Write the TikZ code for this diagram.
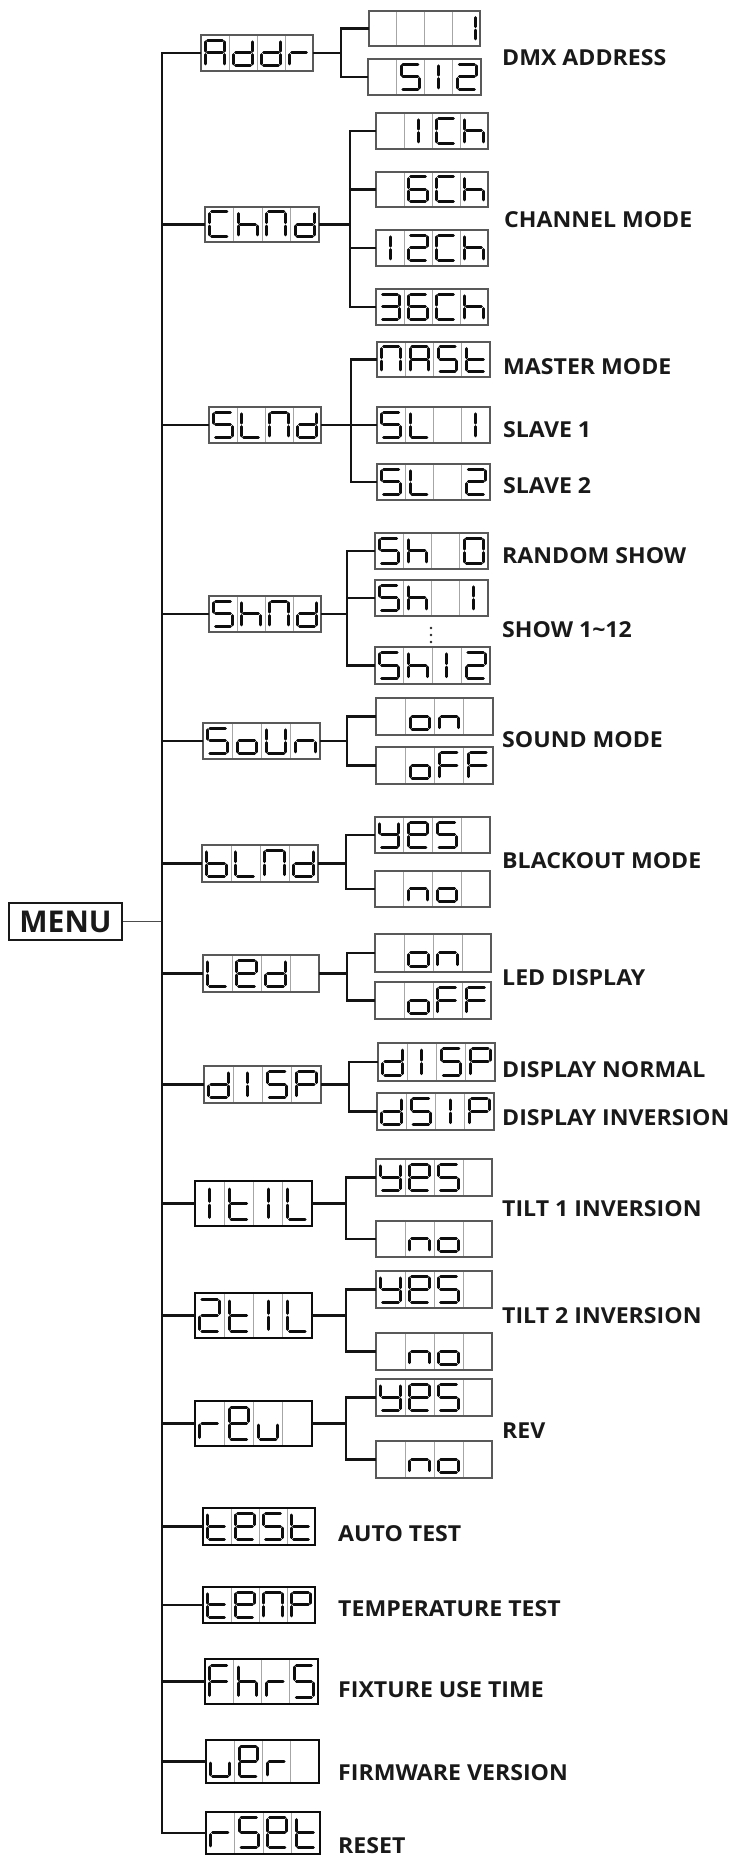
\documentclass[tikz,border=0pt]{standalone}
\usepackage{fontspec}
\newfontfamily\labfont{Open Sans}[FakeStretch=1.05]
\newfontfamily\menufont{Open Sans}
\newcommand\defch[2]{\expandafter\def\csname ch#1\endcsname{#2}}
\defch{A}{a,b,c,e,f,g}
\defch{d}{b,c,d,e,g}
\defch{r}{e,g}
\defch{C}{a,d,e,f}
\defch{h}{c,e,f,g}
\defch{N}{a,b,c,e,f}
\defch{1}{b,c}
\defch{I}{i,j}
\defch{6}{a,c,d,e,f,g}
\defch{3}{a,b,c,d,g}
\defch{2}{a,b,d,e,g}
\defch{5}{a,c,d,f,g}
\defch{L}{d,e,f}
\defch{t}{d,e,f,g}
\defch{o}{c,d,e,g}
\defch{n}{c,e,g}
\defch{F}{a,e,f,g}
\defch{y}{b,c,d,f,g}
\defch{E}{a,b,d,e,f,g}
\defch{P}{a,b,e,f,g}
\defch{u}{c,d,e}
\defch{U}{b,c,d,e,f}
\defch{0}{a,b,c,d,e,f}
\defch{b}{c,d,e,f,g}
\defch{X}{}
\def\gp{1.8}
\def\sga{\draw[seg] (\xL+\gp,\yT) -- (\xR-\gp,\yT);}
\def\sgb{\draw[seg] (\xR,\yT+\gp) -- (\xR,\yM-\gp);}
\def\sgc{\draw[seg] (\xR,\yM+\gp) -- (\xR,\yB-\gp);}
\def\sgd{\draw[seg] (\xL+\gp,\yB) -- (\xR-\gp,\yB);}
\def\sge{\draw[seg] (\xL,\yM+\gp) -- (\xL,\yB-\gp);}
\def\sgf{\draw[seg] (\xL,\yT+\gp) -- (\xL,\yM-\gp);}
\def\sgg{\draw[seg] (\xL+\gp,\yM) -- (\xR-\gp,\yM);}
\def\sgi{\draw[seg] (\xC,\yT+\gp) -- (\xC,\yM-\gp);}
\def\sgj{\draw[seg] (\xC,\yM+\gp) -- (\xC,\yB-\gp);}
\newcommand\lcdglyph[5]{%
  \pgfmathsetmacro\xL{#1+0.17*#3}%
  \pgfmathsetmacro\xR{#1+#3-0.17*#3}%
  \pgfmathsetmacro\xC{#1+0.5*#3}%
  \pgfmathsetmacro\yT{#2+0.14*#4}%
  \pgfmathsetmacro\yB{#2+#4-0.15*#4}%
  \pgfmathsetmacro\yM{(\yT+\yB)/2}%
  \edef\seglist{\csname ch#5\endcsname}%
  \ifx\seglist\empty\else
  \foreach \s in \seglist {\csname sg\s\endcsname}%
  \fi}
\newcommand\lcdbox[7][]{%
  \pgfmathsetmacro\bw{#5-#3}%
  \pgfmathsetmacro\bh{#6-#4}%
  \pgfmathsetmacro\cw{\bw/4}%
  \node[dbox,#1,minimum width=\bw pt,minimum height=\bh pt,anchor=north west] (#2) at (#3,#4) {};
  \foreach \k in {1,2,3}{\draw[divider] (#3+\k*\cw,#4+0.8) -- (#3+\k*\cw,#6-0.8);}
  \foreach \c [count=\k from 0] in {#7}{\lcdglyph{#3+\k*\cw}{#4}{\cw}{\bh}{\c}}%
}
\newcommand\subtree[3]{%
  \coordinate (J#1) at (#2,0);
  \draw[conn] (#1.east) -- (#1.east -| J#1);
  \foreach \s in {#3}{\draw[conn] (\s.west) -| (#1.east -| J#1);}%
}
\tikzset{
  seg/.style={line width=3pt, line cap=round, draw=black!95},
  dbox/.style={draw=black!65, line width=1.3pt, inner sep=0pt, outer sep=0pt, fill=white},
  heavy/.style={draw=black!95, line width=1.9pt},
  divider/.style={draw=black!35, line width=0.9pt},
  trunkline/.style={line width=2.8pt, draw=black!92, line join=miter},
  conn/.style={line width=2.2pt, draw=black!92, line join=miter},
  menuline/.style={line width=1.3pt, draw=black!70},
  menubox/.style={draw=black!90, line width=1.6pt, inner sep=0pt, minimum width=113pt, minimum height=37pt,
    font=\menufont\bfseries\fontsize{30}{30}\selectfont, text=black!90},
  lab/.style={font=\labfont\bfseries\fontsize{22}{22}\selectfont, anchor=base west, inner sep=0pt, text=black!90},
}
\begin{document}
\begin{tikzpicture}[x=1pt,y=-1pt]
\useasboundingbox (0,0) rectangle (735,1856);
% main boxes
\lcdbox{Addr}{201}{35}{313}{71}{A,d,d,r}
\lcdbox{ChNd}{205}{207}{319}{242}{C,h,N,d}
\lcdbox{SLNd}{209}{407}{321}{443}{5,L,N,d}
\lcdbox{ShNd}{209}{596}{321}{632}{5,h,N,d}
\lcdbox{SoUn}{203}{723}{320}{759}{5,o,U,n}
\lcdbox{bLNd}{202}{845}{318}{882}{b,L,N,d}
\lcdbox{LEd}{203}{955}{319}{992}{L,E,d,X}
\lcdbox{dISP}{204}{1066}{321}{1103}{d,I,5,P}
\lcdbox[heavy]{tILa}{195}{1181}{312}{1226}{I,t,I,L}
\lcdbox[heavy]{tILb}{195}{1293}{312}{1338}{2,t,I,L}
\lcdbox[heavy]{rEu}{195}{1401}{312}{1446}{r,E,u,X}
\lcdbox[heavy]{tESt}{203}{1508}{315}{1545}{t,E,5,t}
\lcdbox[heavy]{tEnP}{203}{1587}{315}{1623}{t,E,N,P}
\lcdbox[heavy]{FhrS}{205}{1659}{318}{1704}{F,h,r,5}
\lcdbox[heavy]{uEr}{206}{1740}{319}{1783}{u,E,r,X}
\lcdbox[heavy]{rSEt}{206}{1812}{320}{1854}{r,5,E,t}
% sub boxes
\lcdbox{a1}{369}{11}{480}{46}{X,X,X,1}
\lcdbox{a2}{368}{59}{481}{95}{X,5,I,2}
\lcdbox{c1}{376}{113}{488}{149}{X,I,C,h}
\lcdbox{c2}{376}{172}{488}{207}{X,6,C,h}
\lcdbox{c3}{376}{230}{488}{266}{I,2,C,h}
\lcdbox{c4}{376}{289}{488}{325}{3,6,C,h}
\lcdbox{s1}{377}{342}{490}{377}{N,A,5,t}
\lcdbox{s2}{377}{407}{490}{443}{5,L,X,I}
\lcdbox{s3}{377}{464}{490}{500}{5,L,X,2}
\lcdbox{h1}{375}{533}{488}{569}{5,h,X,0}
\lcdbox{h2}{375}{580}{488}{616}{5,h,X,I}
\lcdbox{h3}{375}{647}{490}{684}{5,h,I,2}
\lcdbox{o1}{376}{698}{493}{735}{X,o,n,X}
\lcdbox{o2}{376}{747}{493}{784}{X,o,F,F}
\lcdbox{b1}{375}{817}{490}{853}{y,E,5,X}
\lcdbox{b2}{375}{871}{490}{907}{X,n,o,X}
\lcdbox{l1}{375}{934}{491}{972}{X,o,n,X}
\lcdbox{l2}{375}{982}{491}{1019}{X,o,F,F}
\lcdbox{d1}{378}{1043}{495}{1081}{d,I,5,P}
\lcdbox{d2}{377}{1093}{494}{1130}{d,5,I,P}
\lcdbox{ta1}{376}{1159}{492}{1196}{y,E,5,X}
\lcdbox{ta2}{376}{1221}{492}{1257}{X,n,o,X}
\lcdbox{tb1}{376}{1271}{492}{1308}{y,E,5,X}
\lcdbox{tb2}{376}{1333}{492}{1370}{X,n,o,X}
\lcdbox{r1}{376}{1379}{492}{1416}{y,E,5,X}
\lcdbox{r2}{376}{1441}{492}{1478}{X,n,o,X}
% menu and trunk
\node[menubox] (menu) at (65.5,921.5) {MENU};
\coordinate (T) at (162,0);
\draw[menuline] (menu.east) -- (menu.east -| T);
\draw[trunkline] (Addr.west) -- (Addr.west -| T) -- (rSEt.west -| T) -- (rSEt.west);
\foreach \n in {ChNd,SLNd,ShNd,SoUn,bLNd,LEd,dISP,tILa,tILb,rEu,tESt,tEnP,FhrS,uEr}
  {\draw[conn] (\n.west) -- (\n.west -| T);}
% sub trees
\subtree{Addr}{341}{a1,a2}
\subtree{ChNd}{350}{c1,c2,c3,c4}
\subtree{SLNd}{351}{s1,s2,s3}
\subtree{ShNd}{347}{h1,h2,h3}
\subtree{SoUn}{347}{o1,o2}
\subtree{bLNd}{346}{b1,b2}
\subtree{LEd}{347}{l1,l2}
\subtree{dISP}{349}{d1,d2}
\subtree{tILa}{346}{ta1,ta2}
\subtree{tILb}{346}{tb1,tb2}
\subtree{rEu}{346}{r1,r2}
% dots
\foreach \yy in {628,635,642}{\fill[black!85] (431,\yy) circle (1.3);}
% labels
\node[lab] (L1) at (502,65) {DMX ADDRESS};
\node[lab] (L2) at (504,227) {CHANNEL MODE};
\node[lab] (L3) at (503,374) {MASTER MODE};
\node[lab] (L4) at (503,437) {SLAVE 1};
\node[lab] (L5) at (503,493) {SLAVE 2};
\node[lab] (L6) at (502,563) {RANDOM SHOW};
\node[lab] (L7) at (502,637) {SHOW 1\textasciitilde12};
\node[lab] (L8) at (502,747) {SOUND MODE};
\node[lab] (L9) at (502,868) {BLACKOUT MODE};
\node[lab] (L10) at (502,985) {LED DISPLAY};
\node[lab] (L11) at (502,1077) {DISPLAY NORMAL};
\node[lab] (L12) at (502,1125) {DISPLAY INVERSION};
\node[lab] (L13) at (502,1216) {TILT 1 INVERSION};
\node[lab] (L14) at (502,1323) {TILT 2 INVERSION};
\node[lab] (L15) at (502,1438) {REV};
\node[lab] (L16) at (338,1541) {AUTO TEST};
\node[lab] (L17) at (338,1616) {TEMPERATURE TEST};
\node[lab] (L18) at (338,1697) {FIXTURE USE TIME};
\node[lab] (L19) at (338,1780) {FIRMWARE VERSION};
\node[lab] (L20) at (338,1853) {RESET};
\end{tikzpicture}
\end{document}
